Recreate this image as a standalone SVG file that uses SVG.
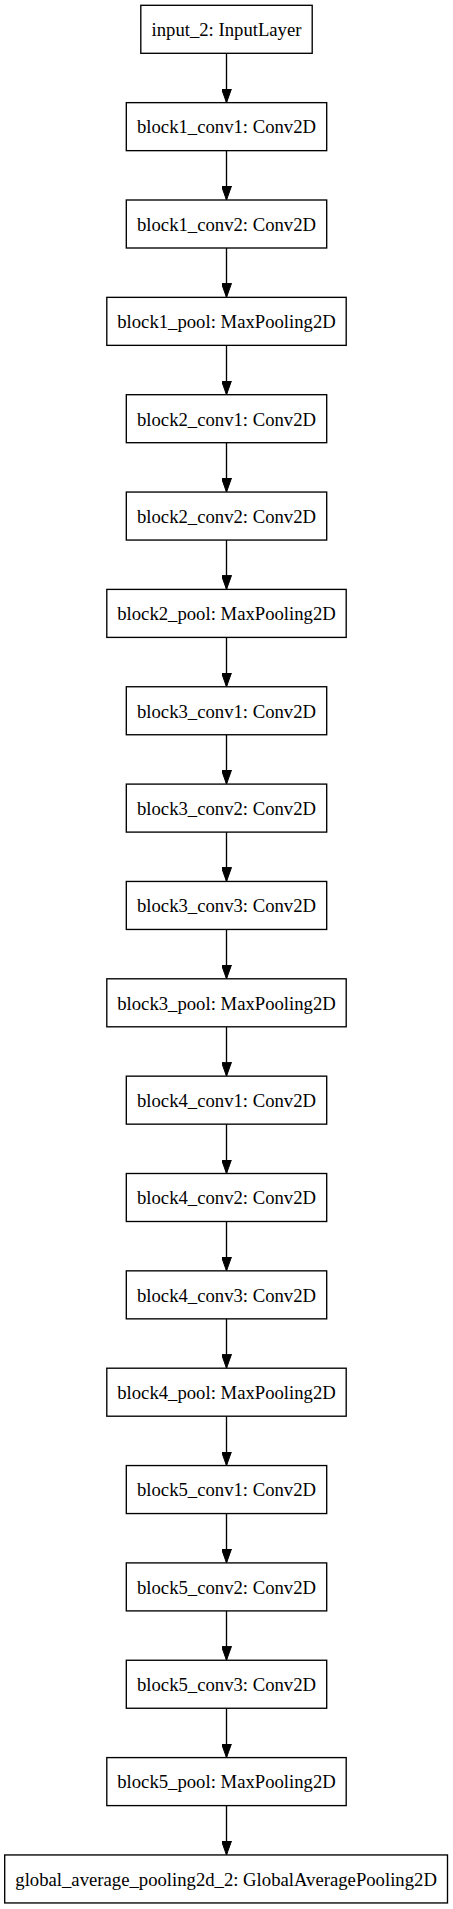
<svg xmlns="http://www.w3.org/2000/svg" width="453" height="1909" viewBox="0 0 453 1909">
<style>
.n rect{fill:#fff;stroke:#000;stroke-width:1.35}
.n text{font-family:"Liberation Serif","Times New Roman",serif;font-size:18.7px;fill:#000;text-anchor:middle}
.e line{stroke:#000;stroke-width:1.35}
</style>
<defs>
<marker id="ah" markerUnits="userSpaceOnUse" markerWidth="14" markerHeight="10" refX="14" refY="5" orient="auto">
<path d="M0,0 L14,5 L0,10 z" fill="#000" stroke="#000" stroke-width="1"/>
</marker>
</defs>
<rect width="453" height="1909" fill="#fff"/>
<g id="connectors" class="e">
<line x1="226.5" y1="53.3" x2="226.5" y2="102.65" marker-end="url(#ah)"/>
<line x1="226.5" y1="150.65" x2="226.5" y2="200.0" marker-end="url(#ah)"/>
<line x1="226.5" y1="248.0" x2="226.5" y2="297.35" marker-end="url(#ah)"/>
<line x1="226.5" y1="345.35" x2="226.5" y2="394.7" marker-end="url(#ah)"/>
<line x1="226.5" y1="442.7" x2="226.5" y2="492.05" marker-end="url(#ah)"/>
<line x1="226.5" y1="540.05" x2="226.5" y2="589.4" marker-end="url(#ah)"/>
<line x1="226.5" y1="637.4" x2="226.5" y2="686.75" marker-end="url(#ah)"/>
<line x1="226.5" y1="734.75" x2="226.5" y2="784.1" marker-end="url(#ah)"/>
<line x1="226.5" y1="832.1" x2="226.5" y2="881.45" marker-end="url(#ah)"/>
<line x1="226.5" y1="929.45" x2="226.5" y2="978.8" marker-end="url(#ah)"/>
<line x1="226.5" y1="1026.8" x2="226.5" y2="1076.15" marker-end="url(#ah)"/>
<line x1="226.5" y1="1124.15" x2="226.5" y2="1173.5" marker-end="url(#ah)"/>
<line x1="226.5" y1="1221.5" x2="226.5" y2="1270.85" marker-end="url(#ah)"/>
<line x1="226.5" y1="1318.85" x2="226.5" y2="1368.2" marker-end="url(#ah)"/>
<line x1="226.5" y1="1416.2" x2="226.5" y2="1465.55" marker-end="url(#ah)"/>
<line x1="226.5" y1="1513.55" x2="226.5" y2="1562.9" marker-end="url(#ah)"/>
<line x1="226.5" y1="1610.9" x2="226.5" y2="1660.25" marker-end="url(#ah)"/>
<line x1="226.5" y1="1708.25" x2="226.5" y2="1757.6" marker-end="url(#ah)"/>
<line x1="226.5" y1="1805.6" x2="226.5" y2="1854.95" marker-end="url(#ah)"/>
</g>
<g id="input_2" class="n"><rect x="140.8" y="5.3" width="171.4" height="48"/><text x="226.5" y="36.1">input_2: InputLayer</text></g>
<g id="block1_conv1" class="n"><rect x="126.3" y="102.65" width="200.4" height="48"/><text x="226.5" y="133.45">block1_conv1: Conv2D</text></g>
<g id="block1_conv2" class="n"><rect x="126.3" y="200.0" width="200.4" height="48"/><text x="226.5" y="230.8">block1_conv2: Conv2D</text></g>
<g id="block1_pool" class="n"><rect x="106.8" y="297.35" width="239.4" height="48"/><text x="226.5" y="328.15">block1_pool: MaxPooling2D</text></g>
<g id="block2_conv1" class="n"><rect x="126.3" y="394.7" width="200.4" height="48"/><text x="226.5" y="425.5">block2_conv1: Conv2D</text></g>
<g id="block2_conv2" class="n"><rect x="126.3" y="492.05" width="200.4" height="48"/><text x="226.5" y="522.85">block2_conv2: Conv2D</text></g>
<g id="block2_pool" class="n"><rect x="106.8" y="589.4" width="239.4" height="48"/><text x="226.5" y="620.2">block2_pool: MaxPooling2D</text></g>
<g id="block3_conv1" class="n"><rect x="126.3" y="686.75" width="200.4" height="48"/><text x="226.5" y="717.55">block3_conv1: Conv2D</text></g>
<g id="block3_conv2" class="n"><rect x="126.3" y="784.1" width="200.4" height="48"/><text x="226.5" y="814.9">block3_conv2: Conv2D</text></g>
<g id="block3_conv3" class="n"><rect x="126.3" y="881.45" width="200.4" height="48"/><text x="226.5" y="912.25">block3_conv3: Conv2D</text></g>
<g id="block3_pool" class="n"><rect x="106.8" y="978.8" width="239.4" height="48"/><text x="226.5" y="1009.6">block3_pool: MaxPooling2D</text></g>
<g id="block4_conv1" class="n"><rect x="126.3" y="1076.15" width="200.4" height="48"/><text x="226.5" y="1106.95">block4_conv1: Conv2D</text></g>
<g id="block4_conv2" class="n"><rect x="126.3" y="1173.5" width="200.4" height="48"/><text x="226.5" y="1204.3">block4_conv2: Conv2D</text></g>
<g id="block4_conv3" class="n"><rect x="126.3" y="1270.85" width="200.4" height="48"/><text x="226.5" y="1301.65">block4_conv3: Conv2D</text></g>
<g id="block4_pool" class="n"><rect x="106.8" y="1368.2" width="239.4" height="48"/><text x="226.5" y="1399.0">block4_pool: MaxPooling2D</text></g>
<g id="block5_conv1" class="n"><rect x="126.3" y="1465.55" width="200.4" height="48"/><text x="226.5" y="1496.35">block5_conv1: Conv2D</text></g>
<g id="block5_conv2" class="n"><rect x="126.3" y="1562.9" width="200.4" height="48"/><text x="226.5" y="1593.7">block5_conv2: Conv2D</text></g>
<g id="block5_conv3" class="n"><rect x="126.3" y="1660.25" width="200.4" height="48"/><text x="226.5" y="1691.05">block5_conv3: Conv2D</text></g>
<g id="block5_pool" class="n"><rect x="106.8" y="1757.6" width="239.4" height="48"/><text x="226.5" y="1788.4">block5_pool: MaxPooling2D</text></g>
<g id="global_average_pooling2d_2" class="n"><rect x="4.7" y="1854.95" width="442.8" height="48"/><text x="226.1" y="1885.75">global_average_pooling2d_2: GlobalAveragePooling2D</text></g>
</svg>
